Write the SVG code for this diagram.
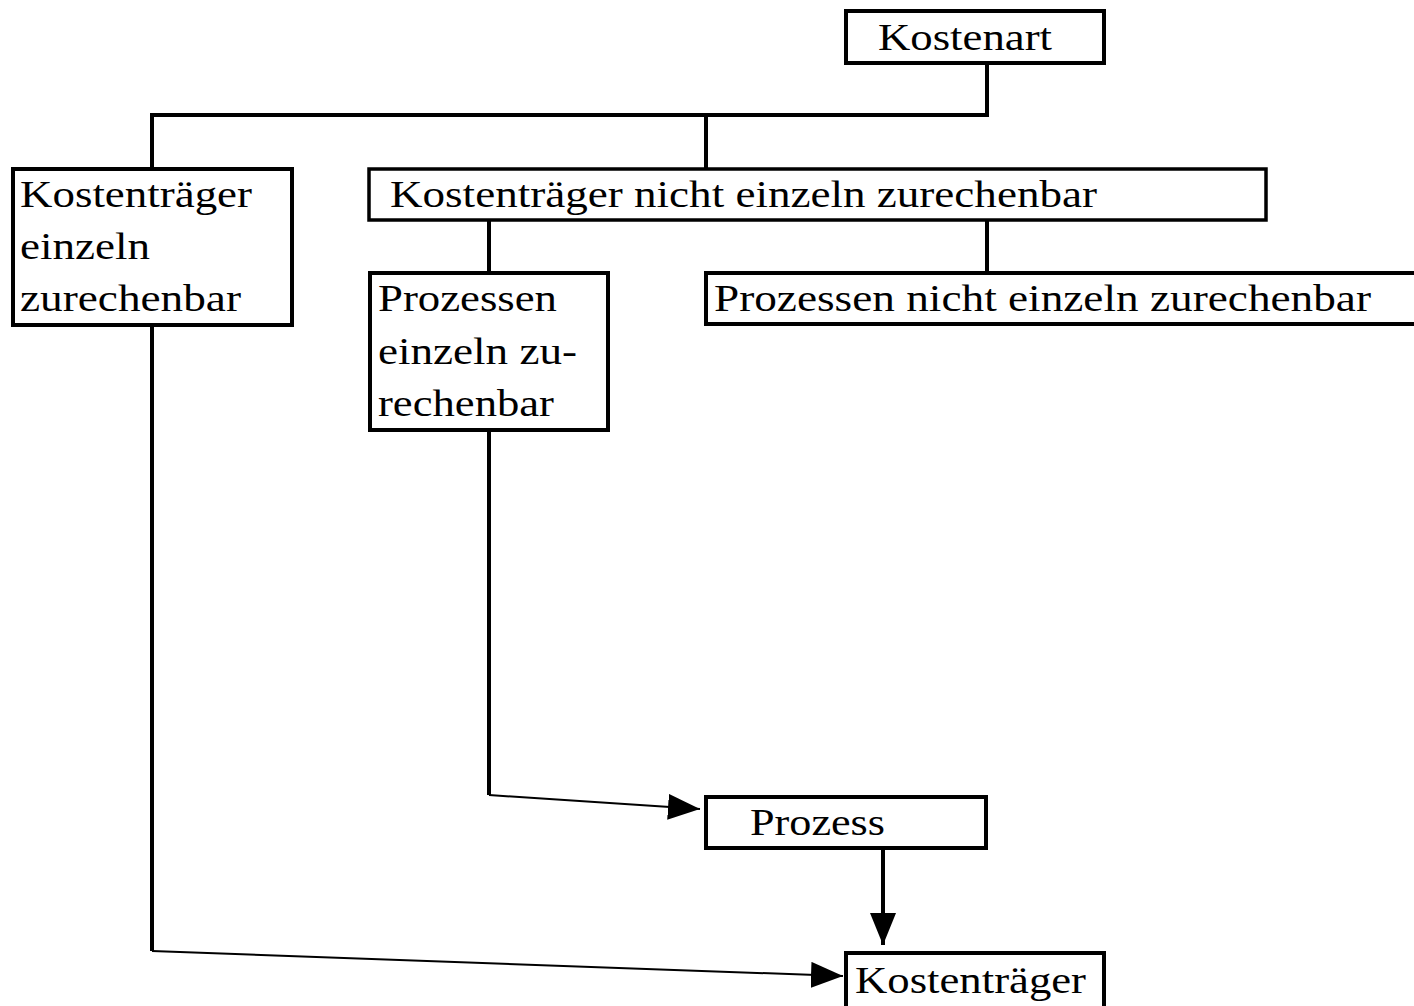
<svg xmlns="http://www.w3.org/2000/svg" width="1414" height="1006" viewBox="0 0 1414 1006">
<style>
.box{fill:#fff;stroke:#000;stroke-width:4}
.t{font-family:"Liberation Serif","Times New Roman",serif;font-size:38px;fill:#000}
.c{fill:none;stroke:#000;stroke-width:4}
.a{fill:none;stroke:#000;stroke-width:2}
</style>
<defs>
<marker id="arr" viewBox="0 0 32 26" refX="32" refY="13" markerWidth="32" markerHeight="26" markerUnits="userSpaceOnUse" orient="auto">
<path d="M0,0 L32,13 L0,26 z" fill="#000"/>
</marker>
</defs>
<rect width="1414" height="1006" fill="#fff"/>
<g id="connectors">
<polyline class="c" points="987,63 987,115 152,115 152,168"/>
<line class="c" x1="706" y1="115" x2="706" y2="168"/>
<line class="c" x1="489" y1="220" x2="489" y2="272"/>
<line class="c" x1="987" y1="220" x2="987" y2="272"/>
<polyline class="c" points="489,431 489,795"/>
<line class="a" x1="489" y1="795" x2="700" y2="809" marker-end="url(#arr)"/>
<line class="c" x1="883" y1="849" x2="883" y2="945" marker-end="url(#arr)" style="stroke-width:4"/>
<polyline class="c" points="152,325 152,951"/>
<line class="a" x1="152" y1="951" x2="843" y2="976" marker-end="url(#arr)"/>
</g>
<g id="kostenart">
<rect class="box" x="846" y="11" width="258" height="52"/>
<text class="t" x="878" y="50" textLength="174" lengthAdjust="spacingAndGlyphs">Kostenart</text>
</g>
<g id="kt-einzeln">
<rect class="box" x="13" y="169" width="279" height="156"/>
<text class="t" x="20" y="207" textLength="232" lengthAdjust="spacingAndGlyphs">Kostenträger</text>
<text class="t" x="20" y="259" textLength="130" lengthAdjust="spacingAndGlyphs">einzeln</text>
<text class="t" x="20" y="311" textLength="221" lengthAdjust="spacingAndGlyphs">zurechenbar</text>
</g>
<g id="kt-nicht">
<rect class="box" x="369" y="169" width="897" height="51" style="stroke-width:3.5"/>
<text class="t" x="390" y="207" textLength="707" lengthAdjust="spacingAndGlyphs">Kostenträger nicht einzeln zurechenbar</text>
</g>
<g id="pz-einzeln">
<rect class="box" x="370" y="273" width="238" height="157"/>
<text class="t" x="378" y="311" textLength="179" lengthAdjust="spacingAndGlyphs">Prozessen</text>
<text class="t" x="378" y="364" textLength="199" lengthAdjust="spacingAndGlyphs">einzeln zu-</text>
<text class="t" x="378" y="416" textLength="176" lengthAdjust="spacingAndGlyphs">rechenbar</text>
</g>
<g id="pz-nicht">
<rect class="box" x="706" y="273" width="720" height="51"/>
<text class="t" x="714" y="311" textLength="657" lengthAdjust="spacingAndGlyphs">Prozessen nicht einzeln zurechenbar</text>
</g>
<g id="prozess">
<rect class="box" x="706" y="797" width="280" height="51"/>
<text class="t" x="750" y="835" textLength="135" lengthAdjust="spacingAndGlyphs">Prozess</text>
</g>
<g id="kostentraeger">
<rect class="box" x="846" y="953" width="258" height="60"/>
<text class="t" x="855" y="993" textLength="231" lengthAdjust="spacingAndGlyphs">Kostenträger</text>
</g>
</svg>
